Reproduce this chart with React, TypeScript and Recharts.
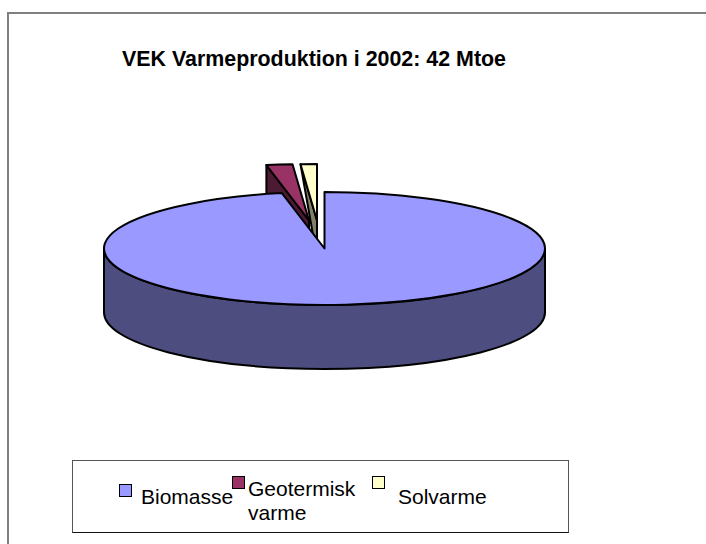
import { PieChart, Pie, Legend } from 'recharts';

const categories = ['Biomasse', 'Geotermisk varme', 'Solvarme'];
const values = [40.7, 0.8, 0.5]; // Mtoe
const topColors = ['#9999ff', '#993366', '#ffffcc'];
const sideColors = ['#4d4d80', '#4d1a33', '#808066'];
// pull-out of each slice, and how far the lower wall edge leans
const explodeX = [0, -15.5, -7.5];
const explodeY = [0, -28, -28];
const wallLean = [0, 0, 12];

const titleText = 'VEK Varmeproduktion i 2002: 42 Mtoe';

// drawn solar first so the big slice ends up on top, angles run counter-clockwise from 12
const pieData = categories
  .map((name, i) => ({ name, value: values[i], fill: topColors[i], index: i }))
  .reverse();

const Y_SCALE = 0.256;
const DEPTH = 64;
const RAD = Math.PI / 180;

function PieSlice(props: any) {
  const { cx, cy, outerRadius, startAngle, endAngle, payload, fill } = props;
  const i = payload.index;
  const rx = outerRadius;
  const ry = outerRadius * Y_SCALE;
  const ax = cx + explodeX[i];
  const ay = cy + explodeY[i];
  const px = (a: number) => ax + rx * Math.cos(a * RAD);
  const py = (a: number) => ay - ry * Math.sin(a * RAD);
  const large = endAngle - startAngle > 180 ? 1 : 0;
  const top = `M${ax},${ay} L${px(startAngle)},${py(startAngle)} A${rx},${ry} 0 ${large} 0 ${px(endAngle)},${py(endAngle)} Z`;
  const strokeProps = { stroke: '#000', strokeWidth: 2, strokeLinejoin: 'round' as const };

  if (i === 0) {
    // outer wall, only the front half shows
    const wall = `M${ax - rx},${ay} A${rx},${ry} 0 0 0 ${ax + rx},${ay} L${ax + rx},${ay + DEPTH} A${rx},${ry} 0 0 1 ${ax - rx},${ay + DEPTH} Z`;
    return (
      <g>
        <path d={wall} fill={sideColors[i]} {...strokeProps} />
        <path d={top} fill={fill} {...strokeProps} />
      </g>
    );
  }

  // exploded slices show the cut face on their left side
  const wall = `M${px(endAngle)},${py(endAngle)} L${ax},${ay} L${ax},${ay + DEPTH} L${px(endAngle) + wallLean[i]},${py(endAngle) + (wallLean[i] ? 68 : DEPTH)} Z`;
  return (
    <g>
      <path d={wall} fill={sideColors[i]} {...strokeProps} />
      <path d={top} fill={fill} {...strokeProps} />
    </g>
  );
}

const legendItems = [
  { left: 46, markerTop: 23, textLeft: 68, textTop: 24 },
  { left: 159, markerTop: 15, textLeft: 175, textTop: 16 },
  { left: 299, markerTop: 15, textLeft: 325, textTop: 24 },
];

function BoxLegend({ payload }: any) {
  return (
    <div style={{ position: 'relative', width: 495, height: 71, border: '1px solid #555', borderBottomColor: '#111', background: '#fff', fontFamily: 'Liberation Sans, Arial, sans-serif', fontSize: 21, lineHeight: '24px', color: '#000' }}>
      {(payload ?? []).map((item: any, i: number) => (
        <div key={item.value}>
          <div style={{ position: 'absolute', left: legendItems[i].left, top: legendItems[i].markerTop, width: 11, height: 11, background: item.color, border: '1.5px solid #000' }} />
          <div style={{ position: 'absolute', left: legendItems[i].textLeft, top: legendItems[i].textTop, width: 120 }}>{item.value}</div>
        </div>
      ))}
    </div>
  );
}

export default function App() {
  return (
    <div style={{ position: 'absolute', left: 0, top: 0, width: 706, height: 544, background: '#fff', overflow: 'hidden' }}>
      {/* outer frame runs off the right and bottom of the page */}
      <div style={{ position: 'absolute', left: 7, top: 12, width: 710, height: 550, borderLeft: '2px solid #808080', borderTop: '2px solid #808080' }} />
      <PieChart width={706} height={544} margin={{ top: 0, right: 0, bottom: 0, left: 0 }} style={{ position: 'absolute', left: 0, top: 0 }}>
        <text x={314} y={66} textAnchor="middle" fontFamily="Liberation Sans, Arial, sans-serif" fontWeight="bold" fontSize={21.4} fill="#000">
          {titleText}
        </text>
        <Pie
          data={pieData}
          dataKey="value"
          nameKey="name"
          cx={324.5}
          cy={248.5}
          outerRadius={220.5}
          innerRadius={0}
          startAngle={90}
          endAngle={450}
          stroke="none"
          labelLine={false}
          label={false}
          shape={PieSlice}
          inactiveShape={PieSlice}
          isAnimationActive={false}
        />
        <Legend
          content={<BoxLegend />}
          wrapperStyle={{ position: 'absolute', left: 72, top: 460, width: 497, height: 73, bottom: 'auto' }}
        />
      </PieChart>
    </div>
  );
}
